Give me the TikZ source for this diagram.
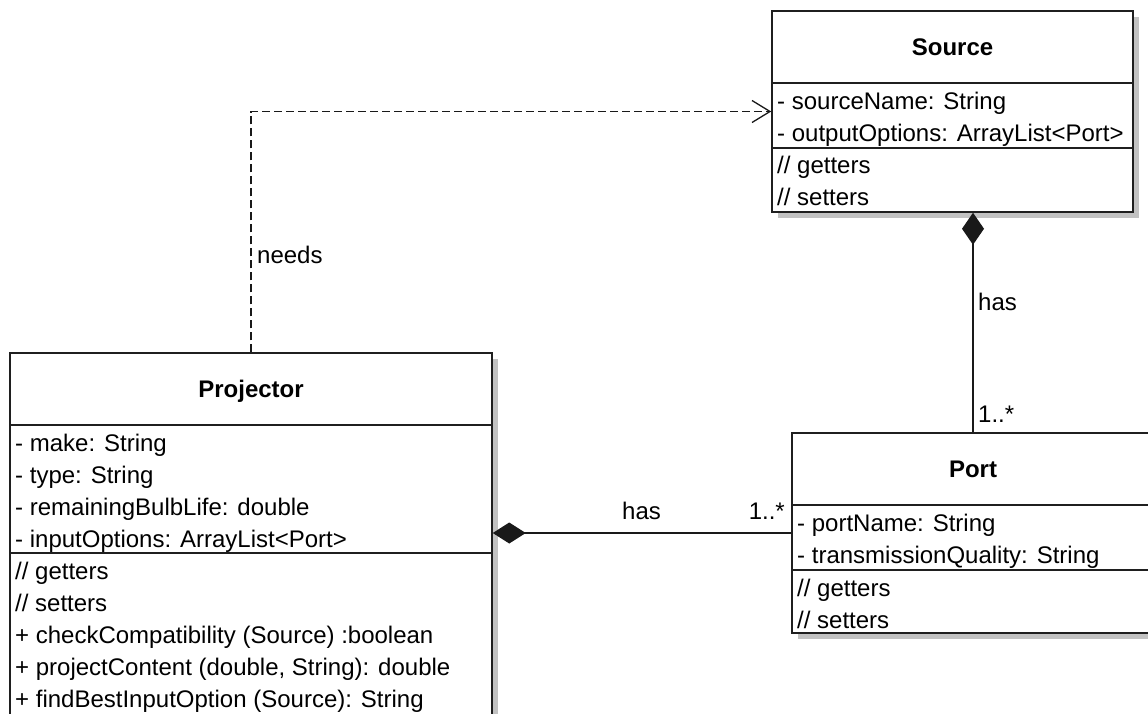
\documentclass[tikz,border=0pt]{standalone}
\usepackage{fontspec}
\setmainfont{Liberation Sans}
\usetikzlibrary{arrows.meta,shadows,calc}
\begin{document}
\begin{tikzpicture}[x=1pt,y=-1pt,
  classbox/.style={draw=black!88, line width=1.5pt, fill=white, inner sep=0pt,
    drop shadow={shadow xshift=6pt, shadow yshift=-6pt, fill=black!24, opacity=1}},
  sep/.style={draw=black!88, line width=1.5pt},
  txt/.style={inner sep=0pt, anchor=base west, font=\fontsize{24}{28}\selectfont},
  ttl/.style={inner sep=0pt, anchor=base, font=\fontsize{24}{28}\selectfont\bfseries},
  lbl/.style={inner sep=0pt, anchor=base west, font=\fontsize{24}{28}\selectfont},
  dep/.style={draw=black!90, line width=1.6pt, dash pattern=on 8pt off 4pt, -{Straight Barb[length=18pt,width=22pt,line width=1.3pt]}},
  comp/.style={draw=black!90, line width=1.5pt}
]
\useasboundingbox (0,0) rectangle (1148,713);
\fill[white] (0,0) rectangle (1148,713);
\clip (0,0) rectangle (1148,713);

% class boxes
\node[classbox, minimum width=361pt, minimum height=201pt] (src) at (952.5,111.5) {};
\node[classbox, minimum width=482pt, minimum height=420pt] (proj) at (251,563) {};
\node[classbox, minimum width=362pt, minimum height=200pt] (port) at (973,533) {};

% compartment separators
\draw[sep] (src.west |- 0,83) -- (src.east |- 0,83);
\draw[sep] (src.west |- 0,148) -- (src.east |- 0,148);
\draw[sep] (proj.west |- 0,425) -- (proj.east |- 0,425);
\draw[sep] (proj.west |- 0,553) -- (proj.east |- 0,553);
\draw[sep] (port.west |- 0,505) -- (port.east |- 0,505);
\draw[sep] (port.west |- 0,570) -- (port.east |- 0,570);

% Source texts
\node[ttl] (srcT) at (952.5,55) {Source};
\node[txt] (s1) at (777,109) {- sourceName: String};
\node[txt] (s2) at (777,141) {- outputOptions: ArrayList<Port>};
\node[txt] (s3) at (777,173) {// getters};
\node[txt] (s4) at (777,205) {// setters};

% Projector texts
\node[ttl] (projT) at (251,397) {Projector};
\node[txt] (p1) at (15,451) {- make: String};
\node[txt] (p2) at (15,483) {- type: String};
\node[txt] (p3) at (15,515) {- remainingBulbLife: double};
\node[txt] (p4) at (15,547) {- inputOptions: ArrayList<Port>};
\node[txt] (p5) at (15,579) {// getters};
\node[txt] (p6) at (15,611) {// setters};
\node[txt] (p7) at (15,643) {+ checkCompatibility (Source) :boolean};
\node[txt] (p8) at (15,675) {+ projectContent (double, String): double};
\node[txt] (p9) at (15,707) {+ findBestInputOption (Source): String};

% Port texts
\node[ttl] (portT) at (973,477) {Port};
\node[txt] (q1) at (797,531) {- portName: String};
\node[txt] (q2) at (797,563) {- transmissionQuality: String};
\node[txt] (q3) at (797,596) {// getters};
\node[txt] (q4) at (797,628) {// setters};

% connectors
\draw[dep] (proj.north) |- (src.west);
\node[lbl] (needs) at (257,263) {needs};

\draw[comp, -{Diamond[length=32pt,width=22pt]}] (port.north) -- (port.north |- src.south);
\node[lbl] (has1) at (978,310) {has};
\node[lbl] (m1) at (978,422) {1..*};

\draw[comp, -{Diamond[length=33pt,width=21pt]}] (port.west) -- (proj.east |- port.west);
\node[lbl] (has2) at (622,519) {has};
\node[lbl, anchor=base east] (m2) at (785,519) {1..*};
\end{tikzpicture}
\end{document}
